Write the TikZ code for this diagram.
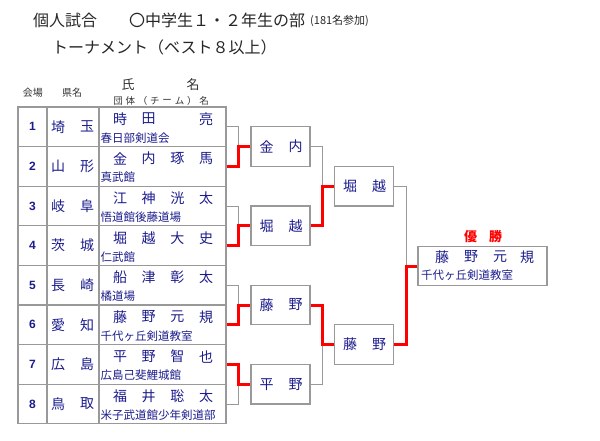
\documentclass[tikz,border=0pt]{standalone}
\usepackage{fontspec}
\setmainfont{Liberation Sans}
\newfontfamily\jp{Noto Sans CJK JP}
\definecolor{navy}{HTML}{1C1C8C}
\definecolor{gline}{HTML}{999999}
\definecolor{wred}{HTML}{FF0000}
\begin{document}
\begin{tikzpicture}[x=1pt,y=-1pt,
  cell/.style={draw=gline,line width=1.3pt,inner sep=0pt,minimum height=39.6},
  rbox/.style={draw=gline,line width=1.3pt,inner sep=0pt,minimum width=59,minimum height=39.6},
  fbox/.style={draw=gline,line width=1.3pt,inner sep=0pt,minimum width=129,minimum height=39.6},
  nm/.style={font=\jp\fontsize{14}{14}\selectfont,text=navy,inner sep=0pt},
  tm/.style={font=\jp\fontsize{11.5}{12}\selectfont,text=navy,inner sep=0pt,anchor=west},
  num/.style={font=\bfseries\fontsize{12}{12}\selectfont,text=navy,inner sep=0pt},
  hd/.style={font=\jp\fontsize{10}{10}\selectfont,text=black!80,inner sep=0pt},
  ttl/.style={anchor=west,inner sep=0pt,font=\jp\fontsize{16}{16}\selectfont,text=black!85},
  gl/.style={draw=gline,line width=1pt},
  rl/.style={draw=wred,line width=3pt}]
\useasboundingbox (0,0) rectangle (600,440);
% titles
\node[ttl] (t1) at (33,20) {個人試合};
\node[ttl] (t2) at (129,20) {〇中学生１・２年生の部};
\node[ttl,font=\jp\fontsize{11}{11}\selectfont] (t3) at (310,21) {(181名参加)};
\node[ttl] (t4) at (52,47) {トーナメント（ベスト８以上）};
% headers
\node[hd] (h1) at (33,93) {会場};
\node[hd] (h2) at (72,93) {県名};
\node[hd,font=\jp\fontsize{13}{13}\selectfont] (h3) at (128,85) {氏};
\node[hd,font=\jp\fontsize{13}{13}\selectfont] (h4) at (193,85) {名};
\foreach \c [count=\k from 0] in {団,体,（,チ,ー,ム,）,名}
  \node[hd,font=\jp\fontsize{9.5}{10}\selectfont] (hh\k) at (118+12.3*\k,101) {\c};
% table rows
\foreach \i/\pa/\pb/\na/\nb/\nc/\nd/\team in {
 1/埼/玉/時/田//亮/春日部剣道会,
 2/山/形/金/内/琢/馬/真武館,
 3/岐/阜/江/神/洸/太/悟道館後藤道場,
 4/茨/城/堀/越/大/史/仁武館,
 5/長/崎/船/津/彰/太/橘道場,
 6/愛/知/藤/野/元/規/千代ヶ丘剣道教室,
 7/広/島/平/野/智/也/広島己斐鯉城館,
 8/鳥/取/福/井/聡/太/米子武道館少年剣道部}{
  \pgfmathsetmacro\yc{107+(\i-0.5)*39.6}
  \pgfmathsetmacro\yt{107+(\i-1)*39.6}
  \node[cell,minimum width=29] (c\i) at (32.5,\yc) {};
  \node[cell,minimum width=52] (p\i) at (73,\yc) {};
  \node[cell,minimum width=127] (n\i) at (162.5,\yc) {};
  \node[num] (cn\i) at (c\i.center) {\i};
  \node[nm] (pa\i) at (58,\yc) {\pa};
  \node[nm] (pb\i) at (87,\yc) {\pb};
  \node[nm] (na\i) at (120,\yt+12) {\na};
  \node[nm] (nb\i) at (148.7,\yt+12) {\nb};
  \node[nm] (nc\i) at (177.3,\yt+12) {\nc};
  \node[nm] (nd\i) at (206,\yt+12) {\nd};
  \node[tm] (tm\i) at (100.5,\yt+31) {\team};
}
% round 2 boxes
\node[rbox] (b1) at (280.5,146.6) {};
\node[rbox] (b2) at (280.5,225.8) {};
\node[rbox] (b3) at (280.5,305) {};
\node[rbox] (b4) at (280.5,384.2) {};
\foreach \j/\a/\b in {1/金/内,2/堀/越,3/藤/野,4/平/野}{
  \node[nm] (ba\j) at ([xshift=-14]b\j.center) {\a};
  \node[nm] (bb\j) at ([xshift=15]b\j.center) {\b};
}
% round 3 boxes
\node[rbox] (s1) at (364,186.2) {};
\node[rbox] (s2) at (364,344.6) {};
\node[nm] (sa1) at ([xshift=-14]s1.center) {堀};
\node[nm] (sb1) at ([xshift=15]s1.center) {越};
\node[nm] (sa2) at ([xshift=-14]s2.center) {藤};
\node[nm] (sb2) at ([xshift=15]s2.center) {野};
% final
\node[fbox] (f) at (482.5,266) {};
\node[inner sep=0pt,font=\jp\bfseries\fontsize{13}{13}\selectfont,text=wred] (win) at (483,237) {優\hspace{12pt}勝};
\foreach \c/\xx [count=\k] in {藤/442,野/471,元/500,規/527}
  \node[nm] (fn\k) at (\xx,257) {\c};
\node[tm] (ft) at (421,275) {千代ヶ丘剣道教室};
% connectors round 1
\draw[gl] (n1.east) -- ++(12,0) |- (b1.west);
\draw[gl] (n3.east) -- ++(12,0) |- (b2.west);
\draw[gl] (n5.east) -- ++(12,0) |- (b3.west);
\draw[gl] (n8.east) -- ++(12,0) |- (b4.west);
\draw[rl] (n2.east) -- ++(12,0) |- (b1.west);
\draw[rl] (n4.east) -- ++(12,0) |- (b2.west);
\draw[rl] (n6.east) -- ++(12,0) |- (b3.west);
\draw[rl] (n7.east) -- ++(12,0) |- (b4.west);
% round 2
\draw[gl] (b1.east) -- ++(12,0) |- (s1.west);
\draw[gl] (b4.east) -- ++(12,0) |- (s2.west);
\draw[rl] (b2.east) -- ++(12,0) |- (s1.west);
\draw[rl] (b3.east) -- ++(12,0) |- (s2.west);
% round 3
\draw[gl] (s1.east) -- ++(12,0) |- (f.west);
\draw[rl] (s2.east) -- ++(12,0) |- (f.west);
\end{tikzpicture}
\end{document}
